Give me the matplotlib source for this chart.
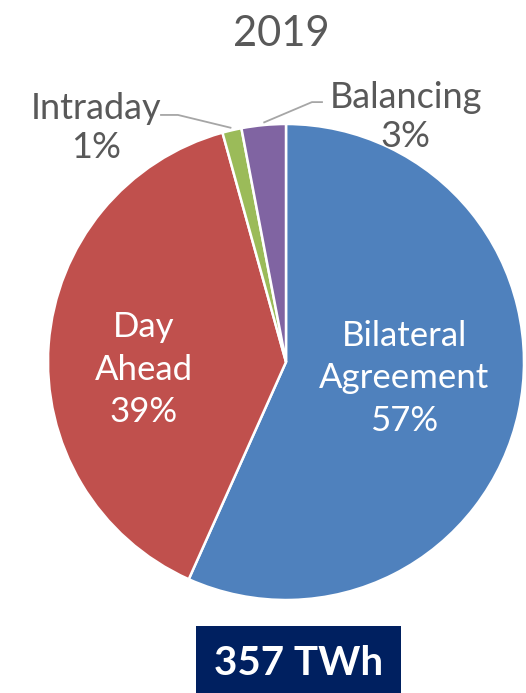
import numpy as np
import matplotlib
matplotlib.use("Agg")
import matplotlib.pyplot as plt
from matplotlib.patches import Rectangle

plt.rcParams['font.family'] = ['Lato', 'DejaVu Sans']

# data (share of 357 TWh, 2019)
labels = ['Bilateral\nAgreement', 'Day\nAhead', 'Intraday', 'Balancing']
shares = [56.7, 39.0, 1.3, 3.0]
pct_text = ['57%', '39%', '1%', '3%']
colors = ['#4F81BD', '#C0504D', '#9BBB59', '#8064A2']
title = '2019'
total_label = '357 TWh'

W, H = 526, 693
fig = plt.figure(figsize=(W / 100, H / 100), dpi=100)
ax = fig.add_axes([0, 0, 1, 1])

wedges, _ = ax.pie(shares, colors=colors, startangle=90, counterclock=False,
                   radius=1.0, wedgeprops=dict(edgecolor='white', linewidth=1.8))

# keep centre at (286, 362) px with radius 238 px
R, cx, cy = 238.0, 286.0, 362.0
ax.set_xlim(-cx / R, (W - cx) / R)
ax.set_ylim(-(H - cy) / R, cy / R)
ax.set_aspect('auto')
ax.axis('off')

gray = '#595959'
# radius, dx, dy for labels inside the wedges
inner = {0: (0.55, -0.042, 0.047), 1: (0.59, -0.01, -0.076)}
outer = {2: dict(text=(-0.80, 0.983), elbow=(-0.454, 1.038), end=(-0.529, 1.038)),
         3: dict(text=(0.502, 1.029), elbow=(0.109, 1.092), end=(0.155, 1.092))}

for i, w in enumerate(wedges):
    mid = np.deg2rad((w.theta1 + w.theta2) / 2)
    if i in inner:
        r, dx, dy = inner[i]
        ax.text(r * np.cos(mid) + dx, r * np.sin(mid) + dy, labels[i] + '\n' + pct_text[i],
                ha='center', va='center', color='white', fontsize=25,
                linespacing=1.4)
    else:
        o = outer[i]
        p0 = (1.01 * np.cos(mid), 1.01 * np.sin(mid))
        ax.plot([p0[0], o['elbow'][0], o['end'][0]],
                [p0[1], o['elbow'][1], o['end'][1]],
                color='#A6A6A6', lw=1.3, solid_capstyle='butt')
        ax.text(o['text'][0], o['text'][1], labels[i] + '\n' + pct_text[i],
                ha='center', va='center', color=gray, fontsize=26, linespacing=1.22)

fig.text(281.5 / W, 1 - 46 / H, title, ha='center', va='baseline',
         color=gray, fontsize=30)

fig.patches.append(Rectangle((196 / W, 0), (401 - 196) / W, (H - 626) / H,
                             transform=fig.transFigure, facecolor='#002060',
                             edgecolor='none'))
fig.text(298.5 / W, 1 - 675 / H, total_label, ha='center', va='baseline',
         color='white', fontsize=29, fontweight='bold')

fig.savefig('out.png', dpi=100)
